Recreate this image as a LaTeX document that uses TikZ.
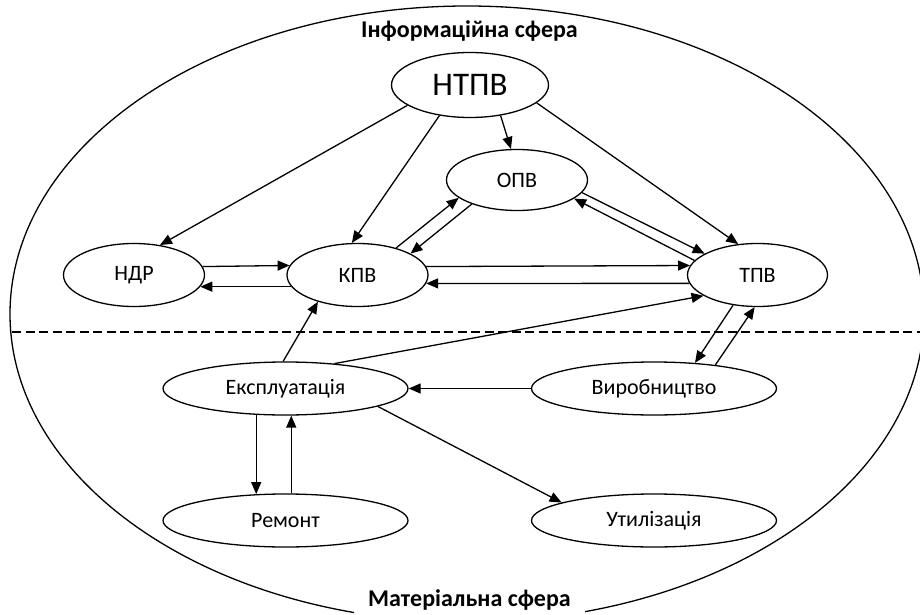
\documentclass[tikz,border=0pt]{standalone}
\usepackage{fontspec}
\setmainfont{Carlito}
\usetikzlibrary{arrows.meta,shapes.geometric}
\begin{document}
\begin{tikzpicture}[x=1pt,y=-1pt,
  every node/.style={inner sep=0pt},
  box/.style={ellipse,draw,line width=1.3pt,minimum width=141pt,minimum height=63pt,
    font=\fontsize{22}{26}\selectfont},
  wide/.style={box,minimum width=245pt,minimum height=53pt},
  arr/.style={line width=1.3pt,-{Triangle[length=12pt,width=10pt]}},
  lbl/.style={font=\fontsize{24}{28}\selectfont\bfseries}]
\useasboundingbox (0,0) rectangle (920,615);
\clip (0,0) rectangle (920,615);
\draw[line width=1.3pt] (467,314) ellipse [x radius=457, y radius=308];
\draw[line width=1.3pt,dash pattern=on 9pt off 4.5pt] (12,332) -- (920,332);
\node[lbl] (info) at (469.5,31) {Інформаційна сфера};
\node[lbl,fill=white,inner xsep=14pt,minimum height=30pt] (mat) at (469.5,600) {Матеріальна сфера};

\node[box,minimum width=157pt,minimum height=65pt,font=\fontsize{33}{38}\selectfont] (ntpv) at (470,85) {НТПВ};
\node[box,minimum height=61pt] (opv) at (517,180) {ОПВ};
\node[box] (ndr) at (134,275) {НДР};
\node[box] (kpv) at (357.5,275) {КПВ};
\node[box,minimum width=140pt] (tpv) at (757.5,275) {ТПВ};
\node[wide] (exp) at (285.5,388.5) {Експлуатація};
\node[wide] (vyr) at (654,388.5) {Виробництво};
\node[wide] (rem) at (285.5,520.5) {Ремонт};
\node[wide] (utl) at (654,520.5) {Утилізація};

\draw[arr] (ntpv.198) -- (ndr.49);
\draw[arr] (ntpv.225) -- (kpv.100);
\draw[arr] (ntpv.-45) -- (opv.101);
\draw[arr] (ntpv.-15) -- (tpv.122);
\draw[arr] (kpv.35) -- (opv.197);
\draw[arr] (opv.208) -- (kpv.22);
\draw[arr] (opv.-11) -- (tpv.158);
\draw[arr] (tpv.167) -- (opv.-18);
\draw[arr] (ndr.7.6) -- (kpv.172.4);
\draw[arr] (kpv.190.9) -- (ndr.-10.9);
\draw[arr] (kpv.7.6) -- (tpv.172.4);
\draw[arr] (tpv.187.6) -- (kpv.-7.6);
\draw[arr] (exp.95) -- (kpv.214);
\draw[arr] (exp.27) -- (tpv.201);
\draw[arr] (tpv.231) -- (vyr.32.5);
\draw[arr] (vyr.21) -- (tpv.265.5);
\draw[arr] (vyr.west) -- (exp.east);
\draw[arr] (exp.222) -- (rem.138);
\draw[arr] (rem.78) -- (exp.-78);
\draw[arr] (exp.-11.7) -- (utl.169.3);
\end{tikzpicture}
\end{document}
